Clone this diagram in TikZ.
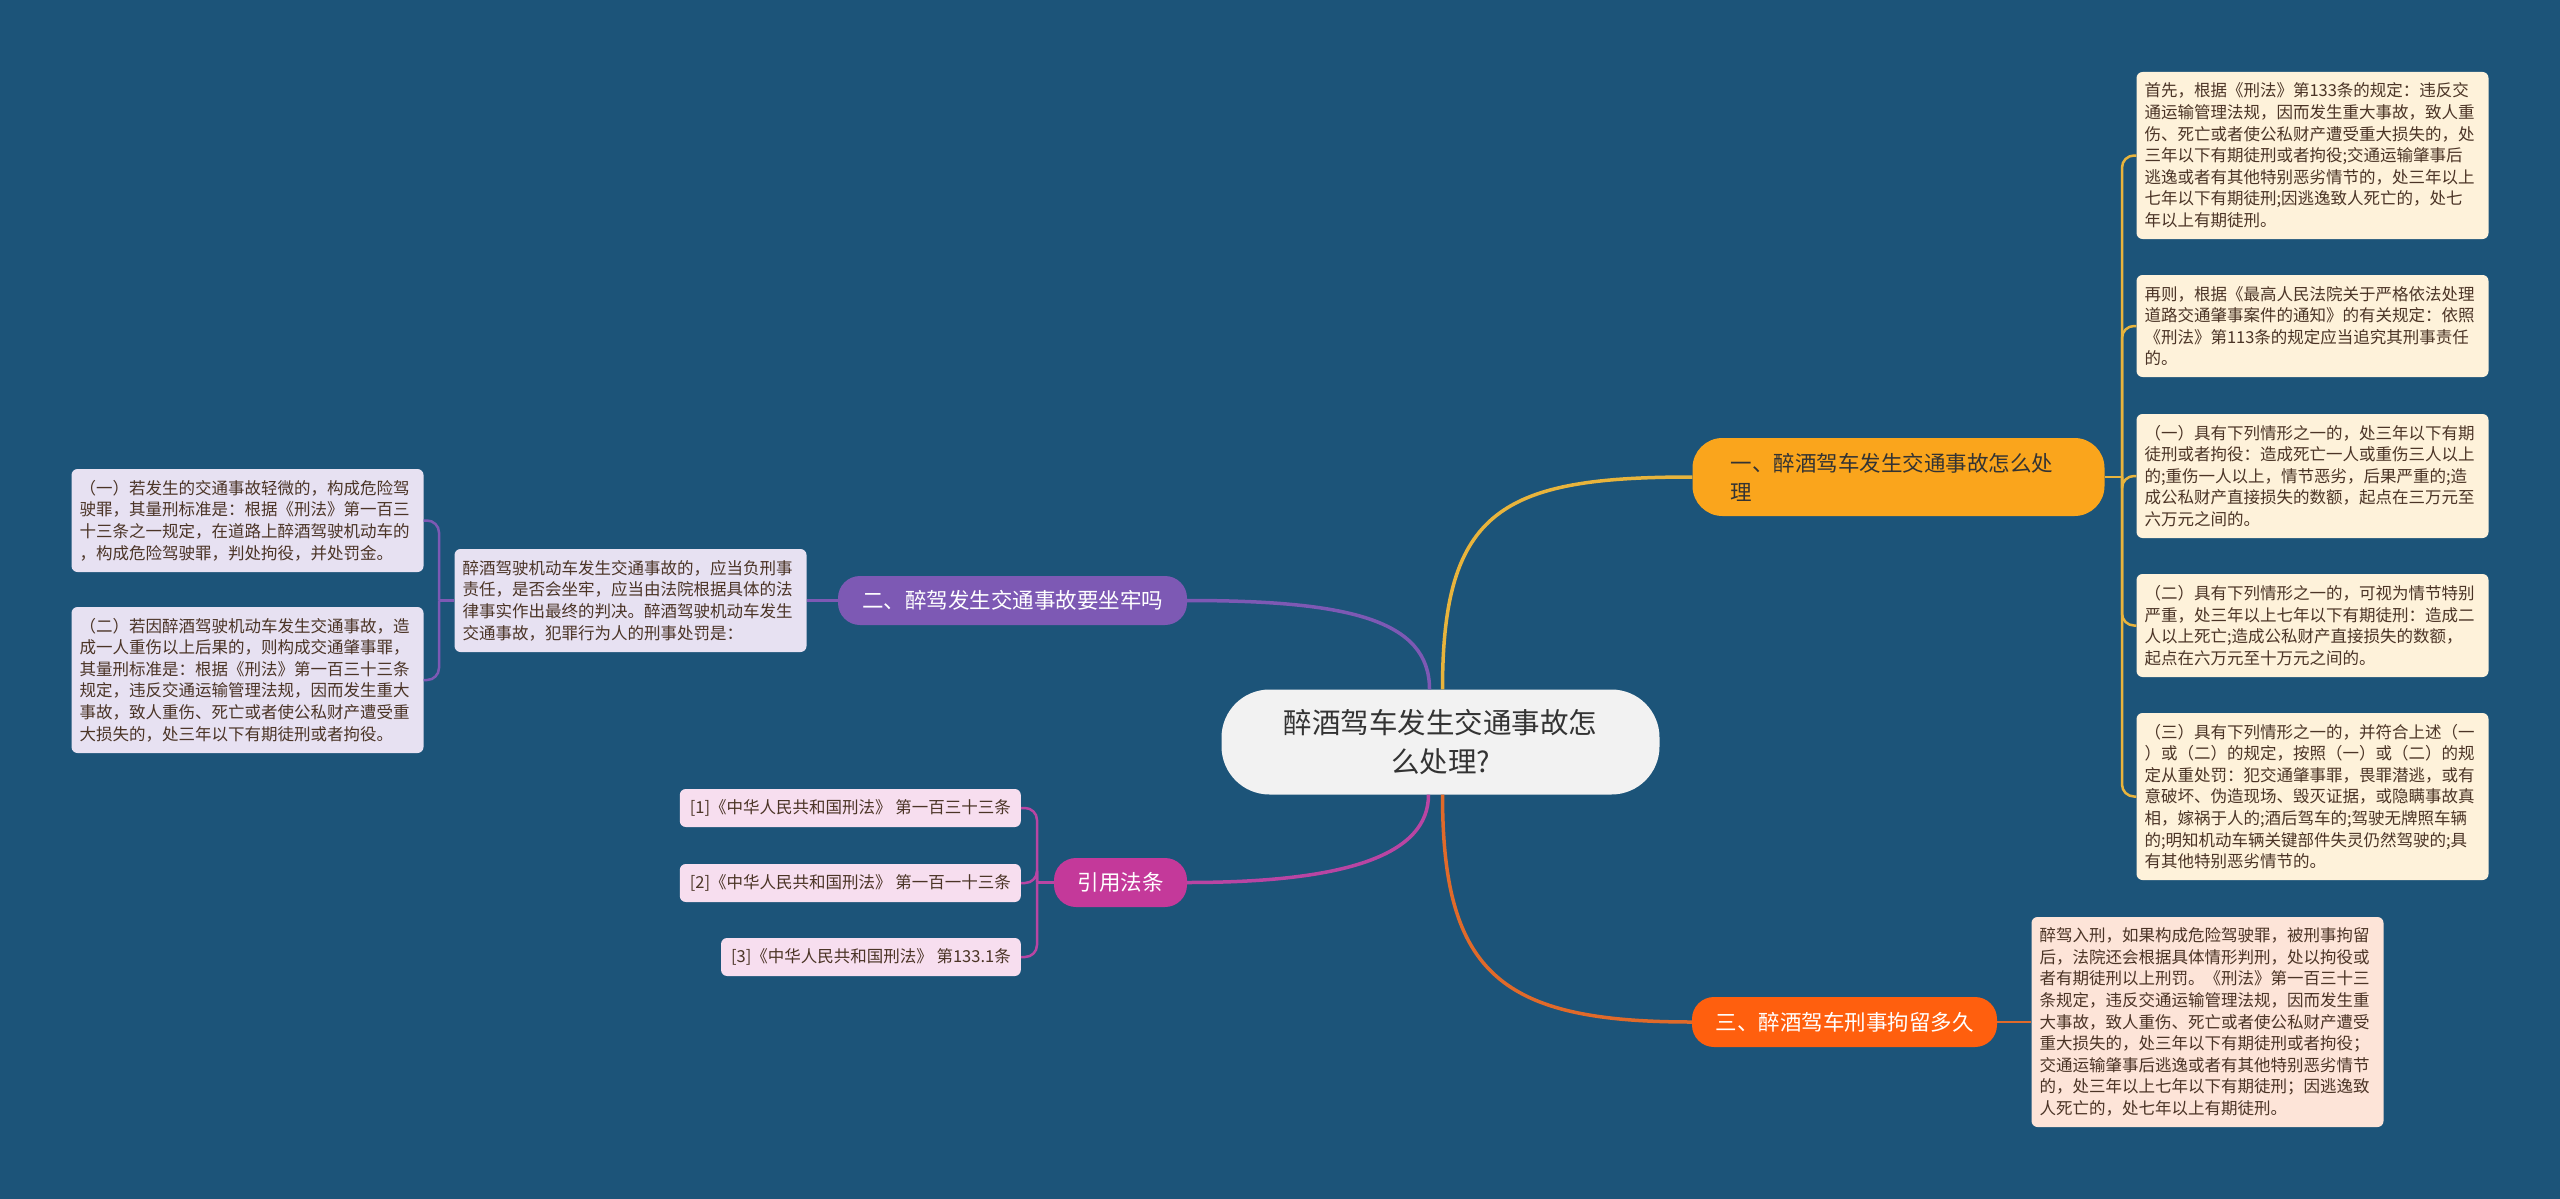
\documentclass[tikz,border=0pt]{standalone}
\usepackage{fontspec}
\setmainfont{Noto Sans CJK SC}
\usepackage{xcolor}
\usepackage{tikz}
\usetikzlibrary{calc}

\definecolor{bgblue}{RGB}{28,84,121}
\definecolor{rootfill}{RGB}{242,242,242}
\definecolor{howfill}{RGB}{250,165,28}
\definecolor{howlink}{RGB}{232,180,60}
\definecolor{jailfill}{RGB}{125,89,180}
\definecolor{lawfill}{RGB}{196,57,154}
\definecolor{lawlink}{RGB}{185,69,163}
\definecolor{detainfill}{RGB}{255,95,14}
\definecolor{detainlink}{RGB}{224,106,42}
\definecolor{creamleaf}{RGB}{254,242,218}
\definecolor{lilacleaf}{RGB}{231,225,242}
\definecolor{pinkleaf}{RGB}{247,222,239}
\definecolor{peachleaf}{RGB}{253,228,216}
\definecolor{leafink}{RGB}{75,52,38}

\begin{document}
\begin{tikzpicture}[x=1pt, y=-1pt, line join=round,
  leaf/.style={rounded corners=6pt, inner xsep=8pt, inner ysep=0pt, text width=336pt, align=left,
    font=\fontsize{16.5}{21.6}\selectfont, text=leafink},
  citebox/.style={rounded corners=6pt, inner xsep=10pt, inner ysep=0pt, minimum height=38pt, anchor=east,
    fill=pinkleaf, font=\fontsize{16.5}{21.6}\selectfont, text=leafink},
  topic/.style={rounded corners=22pt, inner sep=0pt, font=\fontsize{21.5}{29}\selectfont, text=white},
  limb/.style={line width=3.5pt},
  twig/.style={line width=2.5pt, rounded corners=12pt}]
  \useasboundingbox (0,0) rectangle (2560,1199);
  \fill[bgblue] (0,0) rectangle (2560,1199);

  \node[fill=rootfill, rounded corners=48pt, minimum width=438pt, minimum height=105pt, align=center,
    font=\fontsize{28.5}{39}\selectfont, text=black!80] (root) at (1440.5,742) {醉酒驾车发生交通事故怎\\么处理?};

  \node[topic, fill=howfill, text=black!80, rounded corners=30pt, minimum width=412pt, minimum height=78pt,
    text width=336pt, align=left] (howto) at (1898.5,477) {一、醉酒驾车发生交通事故怎么处\\理};
  \node[topic, fill=jailfill, minimum width=349pt, minimum height=49pt] (jail) at (1012.5,600.5) {二、醉驾发生交通事故要坐牢吗};
  \node[topic, fill=lawfill, minimum width=133pt, minimum height=49pt] (laws) at (1120.5,882.5) {引用法条};
  \node[topic, fill=detainfill, minimum width=305pt, minimum height=50pt] (detain) at (1844.5,1022) {三、醉酒驾车刑事拘留多久};

  \node[leaf, fill=creamleaf, minimum height=167pt] (howA) at (2312.5,155.5) {首先，根据《刑法》第133条的规定：违反交\\通运输管理法规，因而发生重大事故，致人重\\伤、死亡或者使公私财产遭受重大损失的，处\\三年以下有期徒刑或者拘役;交通运输肇事后\\逃逸或者有其他特别恶劣情节的，处三年以上\\七年以下有期徒刑;因逃逸致人死亡的，处七\\年以上有期徒刑。};
  \node[leaf, fill=creamleaf, minimum height=102pt] (howB) at (2312.5,326) {再则，根据《最高人民法院关于严格依法处理\\道路交通肇事案件的通知》的有关规定：依照\\《刑法》第113条的规定应当追究其刑事责任\\的。};
  \node[leaf, fill=creamleaf, minimum height=124pt] (howC) at (2312.5,476) {（一）具有下列情形之一的，处三年以下有期\\徒刑或者拘役：造成死亡一人或重伤三人以上\\的;重伤一人以上，情节恶劣，后果严重的;造\\成公私财产直接损失的数额，起点在三万元至\\六万元之间的。};
  \node[leaf, fill=creamleaf, minimum height=103pt] (howD) at (2312.5,625.5) {（二）具有下列情形之一的，可视为情节特别\\严重，处三年以上七年以下有期徒刑：造成二\\人以上死亡;造成公私财产直接损失的数额，\\起点在六万元至十万元之间的。};
  \node[leaf, fill=creamleaf, minimum height=167pt] (howE) at (2312.5,796.5) {（三）具有下列情形之一的，并符合上述（一\\）或（二）的规定，按照（一）或（二）的规\\定从重处罚：犯交通肇事罪，畏罪潜逃，或有\\意破坏、伪造现场、毁灭证据，或隐瞒事故真\\相，嫁祸于人的;酒后驾车的;驾驶无牌照车辆\\的;明知机动车辆关键部件失灵仍然驾驶的;具\\有其他特别恶劣情节的。};

  \node[leaf, fill=peachleaf, minimum height=210pt] (detainText) at (2207.5,1022) {醉驾入刑，如果构成危险驾驶罪，被刑事拘留\\后，法院还会根据具体情形判刑，处以拘役或\\者有期徒刑以上刑罚。《刑法》第一百三十三\\条规定，违反交通运输管理法规，因而发生重\\大事故，致人重伤、死亡或者使公私财产遭受\\重大损失的，处三年以下有期徒刑或者拘役；\\交通运输肇事后逃逸或者有其他特别恶劣情节\\的，处三年以上七年以下有期徒刑；因逃逸致\\人死亡的，处七年以上有期徒刑。};

  \node[leaf, fill=lilacleaf, minimum height=103pt] (jailText) at (630.5,600.5) {醉酒驾驶机动车发生交通事故的，应当负刑事\\责任，是否会坐牢，应当由法院根据具体的法\\律事实作出最终的判决。醉酒驾驶机动车发生\\交通事故，犯罪行为人的刑事处罚是：};
  \node[leaf, fill=lilacleaf, minimum height=103pt] (jailA) at (247.5,520.5) {（一）若发生的交通事故轻微的，构成危险驾\\驶罪，其量刑标准是：根据《刑法》第一百三\\十三条之一规定，在道路上醉酒驾驶机动车的\\，构成危险驾驶罪，判处拘役，并处罚金。};
  \node[leaf, fill=lilacleaf, minimum height=146pt] (jailB) at (247.5,680) {（二）若因醉酒驾驶机动车发生交通事故，造\\成一人重伤以上后果的，则构成交通肇事罪，\\其量刑标准是：根据《刑法》第一百三十三条\\规定，违反交通运输管理法规，因而发生重大\\事故，致人重伤、死亡或者使公私财产遭受重\\大损失的，处三年以下有期徒刑或者拘役。};

  \node[citebox] (lawA) at (1021,808) {[1]《中华人民共和国刑法》 第一百三十三条};
  \node[citebox] (lawB) at (1021,883) {[2]《中华人民共和国刑法》 第一百一十三条};
  \node[citebox] (lawC) at (1021,957) {[3]《中华人民共和国刑法》 第133.1条};

  \draw[limb, howlink] ([xshift=2pt]root.north) .. controls +(0,-180) and +(-190,0) .. (howto.west);
  \draw[limb, jailfill] ([xshift=-11pt]root.north) .. controls +(0,-70) and +(160,0) .. (jail.east);
  \draw[limb, lawlink] ([xshift=-12pt]root.south) .. controls +(0,60) and +(160,0) .. (laws.east);
  \draw[limb, detainlink] ([xshift=2pt]root.south) .. controls +(0,180) and +(-190,0) .. (detain.west);

  \coordinate (howJoint) at (2122,477);
  \draw[twig, howlink] (howto.east) -- (howJoint);
  \foreach \n in {howA,howB,howC,howD,howE}
    \draw[twig, howlink] (howJoint) |- (\n.west);

  \draw[twig, detainlink] (detain.east) -- (detainText.west);

  \coordinate (jailJoint) at (439,600.5);
  \draw[twig, jailfill] (jail.west) -- (jailText.east);
  \draw[twig, jailfill] (jailText.west) -- (jailJoint);
  \foreach \n in {jailA,jailB}
    \draw[twig, jailfill] (jailJoint) |- (\n.east);

  \coordinate (lawJoint) at (1037,882.5);
  \draw[twig, lawlink] (laws.west) -- (lawJoint);
  \foreach \n in {lawA,lawB,lawC}
    \draw[twig, lawlink] (lawJoint) |- (\n.east);
\end{tikzpicture}
\end{document}
